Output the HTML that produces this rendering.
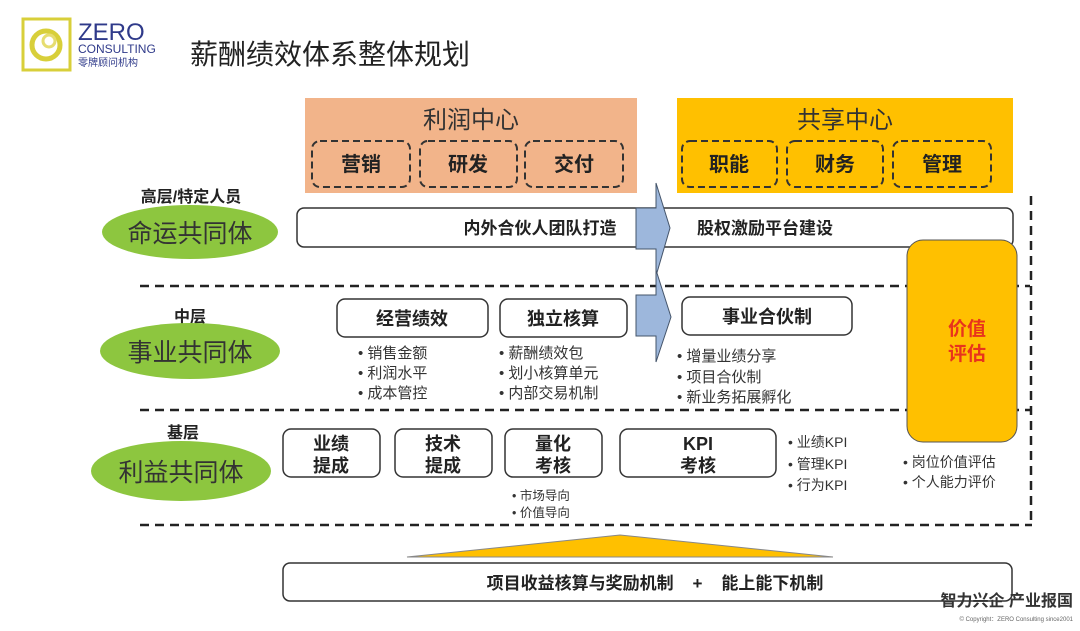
<!DOCTYPE html>
<html><head><meta charset="utf-8"><style>
html,body{margin:0;padding:0;background:#fff;width:1080px;height:631px;overflow:hidden}
svg{display:block;overflow:hidden}
text{font-family:"Liberation Sans","Noto Sans CJK SC",sans-serif}
.b{font-weight:bold}
</style></head><body>
<svg width="1080" height="631" viewBox="0 0 1080 631" xmlns="http://www.w3.org/2000/svg">
<!-- logo -->
<rect x="23" y="19" width="47" height="51" fill="none" stroke="#d8cf3a" stroke-width="3"/>
<circle cx="46" cy="45" r="14" fill="none" stroke="#d8cf3a" stroke-width="5"/>
<circle cx="49" cy="41" r="6" fill="none" stroke="#e6dd70" stroke-width="3"/>
<text x="78" y="40" font-size="24" fill="#2f3a8a">ZERO</text>
<text x="78" y="53" font-size="12" fill="#2f3a8a">CONSULTING</text>
<text x="78" y="66" font-size="10" fill="#2f3a8a">零牌顾问机构</text>
<text x="190" y="64" font-size="28" fill="#222">薪酬绩效体系整体规划</text>
<!-- profit center -->
<rect x="305" y="98" width="332" height="95" fill="#f2b48a"/>
<text x="471" y="128" font-size="24" text-anchor="middle" fill="#333">利润中心</text>
<g fill="none" stroke="#333" stroke-width="2" stroke-dasharray="7,4">
<rect x="312" y="141" width="98" height="46" rx="8"/>
<rect x="420" y="141" width="97" height="46" rx="8"/>
<rect x="525" y="141" width="98" height="46" rx="8"/>
</g>
<g font-size="20" text-anchor="middle" fill="#222">
<text x="361" y="171" class="b">营销</text><text x="468" y="171" class="b">研发</text><text x="574" y="171" class="b">交付</text>
</g>
<!-- shared center -->
<rect x="677" y="98" width="336" height="95" fill="#ffc000"/>
<text x="845" y="128" font-size="24" text-anchor="middle" fill="#333">共享中心</text>
<g fill="none" stroke="#333" stroke-width="2" stroke-dasharray="7,4">
<rect x="682" y="141" width="95" height="46" rx="8"/>
<rect x="787" y="141" width="96" height="46" rx="8"/>
<rect x="893" y="141" width="98" height="46" rx="8"/>
</g>
<g font-size="20" text-anchor="middle" fill="#222">
<text x="729" y="171" class="b">职能</text><text x="835" y="171" class="b">财务</text><text x="942" y="171" class="b">管理</text>
</g>
<!-- dashed frame -->
<g stroke="#222" stroke-width="2.5" stroke-dasharray="9,6" fill="none">
<line x1="140" y1="286" x2="1030" y2="286"/>
<line x1="140" y1="410" x2="1030" y2="410"/>
<line x1="140" y1="525" x2="1032" y2="525"/>
<line x1="1031" y1="196" x2="1031" y2="525"/>
</g>
<!-- row1 -->
<rect x="297" y="208" width="716" height="39" rx="7" fill="#fff" stroke="#333" stroke-width="1.5"/>
<text x="540" y="234" font-size="17" class="b" text-anchor="middle" fill="#222">内外合伙人团队打造</text>
<text x="697" y="234" font-size="17" class="b" fill="#222">股权激励平台建设</text>
<polygon points="636,208 656,208 656,183 670,228 656,276 656,249 636,249" fill="#9db7dc" stroke="#44546a" stroke-width="1"/>
<!-- value box -->
<rect x="907" y="240" width="110" height="202" rx="16" fill="#ffc000" stroke="#555" stroke-width="1"/>
<text x="967" y="335" font-size="19" class="b" text-anchor="middle" fill="#e8341c">价值</text>
<text x="967" y="360" font-size="19" class="b" text-anchor="middle" fill="#e8341c">评估</text>
<!-- left labels -->
<text x="191" y="202" font-size="16" class="b" text-anchor="middle" fill="#222">高层/特定人员</text>
<ellipse cx="190" cy="232" rx="88" ry="27" fill="#8dc63f"/>
<text x="190" y="242" font-size="25" text-anchor="middle" fill="#333">命运共同体</text>
<text x="190" y="322" font-size="16" class="b" text-anchor="middle" fill="#222">中层</text>
<ellipse cx="190" cy="351" rx="90" ry="28" fill="#8dc63f"/>
<text x="190" y="361" font-size="25" text-anchor="middle" fill="#333">事业共同体</text>
<text x="183" y="438" font-size="16" class="b" text-anchor="middle" fill="#222">基层</text>
<ellipse cx="181" cy="471" rx="90" ry="30" fill="#8dc63f"/>
<text x="181" y="481" font-size="25" text-anchor="middle" fill="#333">利益共同体</text>
<!-- row2 -->
<g fill="#fff" stroke="#333" stroke-width="1.5">
<rect x="337" y="299" width="151" height="38" rx="8"/>
<rect x="500" y="299" width="127" height="38" rx="8"/>
<rect x="682" y="297" width="170" height="38" rx="8"/>
</g>
<polygon points="636,295 656,295 656,270 671,317 656,362 656,336 636,336" fill="#9db7dc" stroke="#44546a" stroke-width="1"/>
<text x="412" y="325" font-size="18" class="b" text-anchor="middle" fill="#222">经营绩效</text>
<text x="563" y="325" font-size="18" class="b" text-anchor="middle" fill="#222">独立核算</text>
<text x="767" y="323" font-size="18" class="b" text-anchor="middle" fill="#222">事业合伙制</text>
<g font-size="15" fill="#333">
<text x="358" y="358">•  销售金额</text><text x="358" y="378">•  利润水平</text><text x="358" y="398">•  成本管控</text>
<text x="499" y="358">•  薪酬绩效包</text><text x="499" y="378">•  划小核算单元</text><text x="499" y="398">•  内部交易机制</text>
<text x="677" y="361">•  增量业绩分享</text><text x="677" y="382">•  项目合伙制</text><text x="677" y="402">•  新业务拓展孵化</text>
</g>
<!-- row3 -->
<g fill="#fff" stroke="#333" stroke-width="1.5">
<rect x="283" y="429" width="97" height="48" rx="8"/>
<rect x="395" y="429" width="97" height="48" rx="8"/>
<rect x="505" y="429" width="97" height="48" rx="8"/>
<rect x="620" y="429" width="156" height="48" rx="8"/>
</g>
<g font-size="18" text-anchor="middle" fill="#222">
<text x="331" y="450" class="b">业绩</text><text x="331" y="472" class="b">提成</text>
<text x="443" y="450" class="b">技术</text><text x="443" y="472" class="b">提成</text>
<text x="553" y="450" class="b">量化</text><text x="553" y="472" class="b">考核</text>
<text x="698" y="450" class="b">KPI</text><text x="698" y="472" class="b">考核</text>
</g>
<g font-size="14" fill="#333">
<text x="788" y="447">•  业绩KPI</text><text x="788" y="469">•  管理KPI</text><text x="788" y="490">•  行为KPI</text>
<text x="903" y="467">•  岗位价值评估</text><text x="903" y="487">•  个人能力评价</text>
</g>
<g font-size="12.5" fill="#333">
<text x="512" y="500">•  市场导向</text><text x="512" y="517">•  价值导向</text>
</g>
<!-- bottom -->
<polygon points="407,557 833,557 620,535" fill="#ffc000" stroke="#888" stroke-width="1"/>
<rect x="283" y="563" width="729" height="38" rx="7" fill="#fff" stroke="#333" stroke-width="1.5"/>
<text x="655" y="589" font-size="17" class="b" text-anchor="middle" fill="#222" xml:space="preserve">项目收益核算与奖励机制    +    能上能下机制</text>
<text x="1073" y="606" font-size="16" class="b" text-anchor="end" fill="#333">智力兴企 产业报国</text>
<text x="1073" y="621" font-size="6" text-anchor="end" fill="#666">© Copyright：ZERO Consulting since2001</text>
</svg>
</body></html>
